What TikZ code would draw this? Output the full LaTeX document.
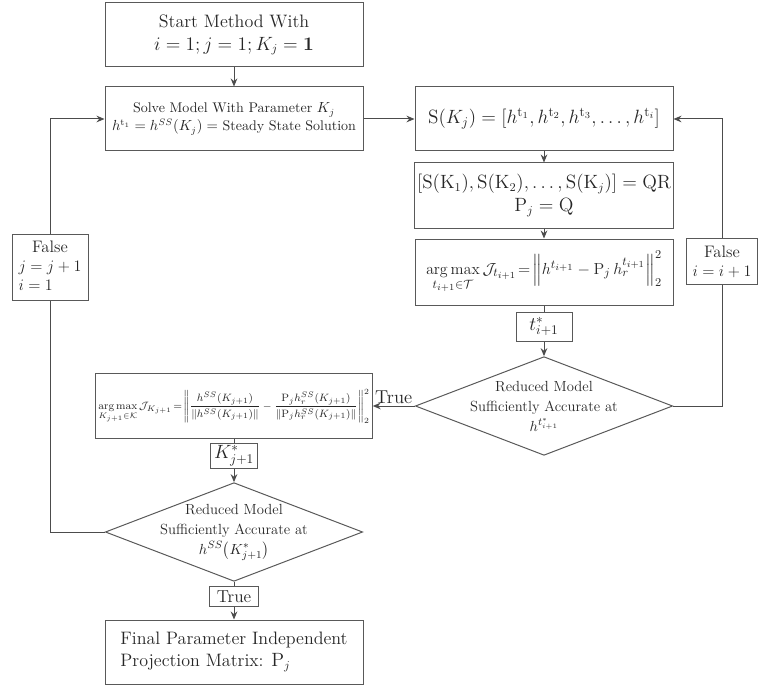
\documentclass[tikz,border=0pt]{standalone}
\usepackage{amsmath,amssymb}
\usepackage{xcolor}
\usetikzlibrary{shapes.geometric,arrows.meta}
\tikzset{
processbox/.style={rectangle, draw=black!65, line width=0.75pt, text=black!85, inner sep=2pt, minimum width=193.5pt, minimum height=48pt, align=center},
smallbox/.style={rectangle, draw=black!65, line width=0.75pt, text=black!85, inner sep=2pt, align=center},
decisionnode/.style={diamond, aspect=2.6, draw=black!65, line width=0.75pt, text=black!85, inner sep=-12pt, minimum width=193pt, minimum height=74pt, align=center},
flowline/.style={draw=black!70, line width=0.75pt},
}

\begin{document}
\begin{tikzpicture}[x=0.75pt,y=-0.75pt,>={Stealth[length=6pt,width=5pt]}]
    \useasboundingbox (0,0) rectangle (758,685);
    \node[processbox,font=\fontsize{13.5}{17}\selectfont] at (234,35) (start) {Start Method With\\ $i=1;j=1;K_j=\mathbf{1}$};
    \node[processbox,font=\fontsize{10.5}{13.5}\selectfont] at (234,119) (solve) {Solve Model With Parameter $K_j$\\ $h^{\mathrm{t}_1}=h^{SS}(K_j)=$ Steady State Solution};
    \node[processbox,font=\fontsize{14.5}{17}\selectfont] at (544,119) (sbox) {$\mathrm{S}(K_j)=\left[h^{\mathrm{t}_1},h^{\mathrm{t}_2},h^{\mathrm{t}_3},\ldots,h^{\mathrm{t}_i}\right]$};
    \node[processbox,minimum height=48.75pt,font=\fontsize{13.5}{17}\selectfont] at (544,195.5) (qr) {$[\mathrm{S}(\mathrm{K}_1),\mathrm{S}(\mathrm{K}_2),\ldots,\mathrm{S}(\mathrm{K}_j)]=\mathrm{QR}$\\ $\mathrm{P}_j=\mathrm{Q}$};
    \node[processbox,minimum height=49.5pt,font=\fontsize{13.2}{16}\selectfont] at (544,272) (argt) {$\mathop{\arg\max}\limits_{t_{i+1}\in\mathcal{T}}\mathcal{J}_{t_{i+1}}\!=\!\left\|h^{t_{i+1}}-\mathrm{P}_j\,h_r^{t_{i+1}}\right\|_2^2$};
    \node[smallbox,minimum width=42pt,minimum height=21.75pt,font=\fontsize{14}{17}\selectfont] at (544,326.5) (tstar) {$t^*_{i+1}$};
    \node[decisionnode,font=\fontsize{11}{15}\selectfont] at (544,406) (diamR) {Reduced Model\\ Sufficiently Accurate at\\ $h^{t^*_{i+1}}$};
    \node[processbox,minimum height=48.75pt,font=\fontsize{7.9}{9.5}\selectfont] at (234,406) (argk) {$\displaystyle\mathop{\arg\max}\limits_{K_{j+1}\in\mathcal{K}}\mathcal{J}_{K_{j+1}}\!=\!\left\|\frac{h^{SS}(K_{j+1})}{\|h^{SS}(K_{j+1})\|}-\frac{\mathrm{P}_jh_r^{SS}(K_{j+1})}{\|\mathrm{P}_jh_r^{SS}(K_{j+1})\|}\right\|_2^2$};
    \node[smallbox,minimum width=35pt,minimum height=18pt,font=\fontsize{14}{17}\selectfont] at (234,456) (kstar) {$K^*_{j+1}$};
    \node[decisionnode,font=\fontsize{11}{15}\selectfont] at (234,532) (diamB) {Reduced Model\\ Sufficiently Accurate at\\ $h^{SS}\bigl(K^*_{j+1}\bigr)$};
    \node[smallbox,minimum width=37pt,minimum height=14.5pt,inner sep=1pt,font=\fontsize{13}{15}\selectfont] at (234,596.5) (truebox) {True};
    \node[processbox,align=left,font=\fontsize{13.5}{16.5}\selectfont] at (234,652) (final) {Final Parameter Independent\\ Projection Matrix: $\mathrm{P}_j$};
    \node[smallbox,minimum width=57pt,minimum height=48.75pt,inner sep=3pt,font=\fontsize{12.5}{14.5}\selectfont] at (50,267.5) (falsej) {\begin{tabular}{@{}l@{}}\multicolumn{1}{c}{False}\\ $j=j+1$\\ $i=1$\end{tabular}};
    \node[smallbox,minimum width=53pt,minimum height=35pt,font=\fontsize{12.5}{14.5}\selectfont] at (722,261.5) (falsei) {False\\ $i=i+1$};
     \draw[flowline,->] (start) -- (solve);
     \draw[flowline,->] (solve) -- (sbox);
     \draw[flowline,->] (sbox) -- (qr);
     \draw[flowline,->] (qr) -- (argt);
     \draw[flowline] (argt) -- (tstar);
     \draw[flowline,->] (tstar) -- (diamR);
     \draw[flowline,->] (diamR) -- node[above,inner sep=1pt,text=black!85,font=\fontsize{14}{17}\selectfont]{True} (argk);
     \draw[flowline] (argk) -- (kstar);
     \draw[flowline,->] (kstar) -- (diamB);
     \draw[flowline] (diamB) -- (truebox);
     \draw[flowline,->] (truebox) -- (final);
     \draw[flowline] (diamB.west) -| (falsej.south);
     \draw[flowline,->] (falsej.north) |- (solve.west);
     \draw[flowline] (diamR.east) -| (falsei.south);
     \draw[flowline,->] (falsei.north) |- (sbox.east);
\end{tikzpicture}
\end{document}
